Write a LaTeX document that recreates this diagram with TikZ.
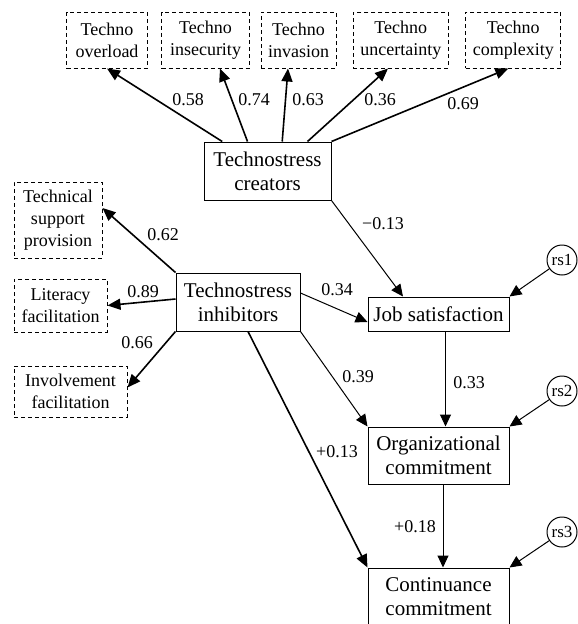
\documentclass[tikz,border=0pt]{standalone}
\usepackage{fontspec}
\setmainfont{Liberation Serif}
\usetikzlibrary{arrows.meta,calc}
\begin{document}
\begin{tikzpicture}[x=1pt,y=-1pt,
  mainbox/.style={draw,line width=1pt,inner sep=0pt,align=center,font=\fontsize{21}{24}\selectfont},
  dimbox/.style={draw,dash pattern=on 4pt off 3pt,line width=1pt,inner sep=0pt,align=center,font=\fontsize{18}{22}\selectfont},
  resid/.style={draw,circle,line width=1pt,minimum size=30pt,inner sep=0pt,font=\fontsize{17}{20}\selectfont},
  lbl/.style={inner sep=0pt,font=\fontsize{18}{20}\selectfont},
  thickarr/.style={line width=1.6pt,-{Triangle[length=13pt,width=11pt]}},
  thinarr/.style={line width=1pt,-{Triangle[length=12pt,width=11pt]}},
]
\useasboundingbox (0,0) rectangle (578,624);
\clip (0,0) rectangle (578,624);

% top dimension boxes
\node[dimbox,minimum width=80.6pt,minimum height=56pt] (ov)  at (107,40)   {Techno\\overload};
\node[dimbox,minimum width=87.6pt,minimum height=56pt] (ins) at (205.5,40) {Techno\\insecurity};
\node[dimbox,minimum width=75pt,minimum height=56pt]   (inv) at (298.5,40) {Techno\\invasion};
\node[dimbox,minimum width=95pt,minimum height=56pt]   (unc) at (400.8,40) {Techno\\uncertainty};
\node[dimbox,minimum width=95.3pt,minimum height=56pt] (cpx) at (513.3,40) {Techno\\complexity};

% left dimension boxes
\node[dimbox,minimum width=88pt,minimum height=76pt]  (tsp)  at (58,220)    {Technical\\support\\provision};
\node[dimbox,minimum width=93pt,minimum height=53pt]  (lit)  at (60.5,305.5) {Literacy\\facilitation};
\node[dimbox,minimum width=113pt,minimum height=51pt] (invf) at (70.5,391.5) {Involvement\\facilitation};

% main constructs
\node[mainbox,minimum width=127pt,minimum height=58pt] (cre)  at (267.5,171) {Technostress\\creators};
\node[mainbox,minimum width=124pt,minimum height=58pt] (inh)  at (238,302)   {Technostress\\inhibitors};
\node[mainbox,minimum width=141pt,minimum height=34pt] (js)   at (438.5,314) {Job satisfaction};
\node[mainbox,minimum width=141pt,minimum height=57pt] (org)  at (438.5,455.5) {Organizational\\commitment};
\node[mainbox,minimum width=141pt,minimum height=57pt] (cont) at (438.5,596.5) {Continuance\\commitment};

% residuals
\node[resid] (rs1) at (562,260) {rs1};
\node[resid] (rs2) at (562,391) {rs2};
\node[resid] (rs3) at (562,532) {rs3};

% creators -> dimensions
\draw[thickarr] ($(cre.north west)+(18.7,0)$) -- (ov.south);
\draw[thickarr] ($(cre.north west)+(44,0)$) -- ($(ins.south)+(14.5,0)$);
\draw[thickarr] ($(cre.north west)+(78.7,0)$) -- ($(inv.south)+(-10.5,0)$);
\draw[thickarr] ($(cre.north west)+(104,0)$) -- ($(unc.south)+(-12.8,0)$);
\draw[thickarr] (cre.north east) -- ($(cpx.south)+(-5,0)$);

% inhibitors -> dimensions
\draw[thickarr] (inh.north west) -- ($(tsp.east)+(0,-12)$);
\draw[thickarr] ($(inh.west)+(0,-3)$) -- (lit.east);
\draw[thickarr] (inh.south west) -- ($(invf.east)+(0,-4)$);

% structural paths
\draw[thinarr] (cre.south east) -- ($(js.north)+(-35.5,0)$);
\draw[thinarr] ($(inh.east)+(0,-9)$) -- ($(js.west)+(0,8)$);
\draw[thinarr] (inh.south east) -- (org.north west);
\draw[thickarr] ($(inh.south)+(10,0)$) -- (cont.north west);
\draw[thinarr] ($(js.south)+(7,0)$) -- ($(org.north)+(7,0)$);
\draw[thinarr] ($(org.south)+(4.5,0)$) -- ($(cont.north)+(4.5,0)$);

% residual arrows
\draw[thinarr] (rs1) -- (js.north east);
\draw[thinarr] (rs2) -- (org.north east);
\draw[thinarr] (rs3) -- (cont.north east);

% labels
\node[lbl] (l1)  at (188,100) {0.58};
\node[lbl] (l2)  at (254,100) {0.74};
\node[lbl] (l3)  at (308,100) {0.63};
\node[lbl] (l4)  at (380,100) {0.36};
\node[lbl] (l5)  at (463,104) {0.69};
\node[lbl] (l6)  at (383,224) {−0.13};
\node[lbl] (l7)  at (163,235) {0.62};
\node[lbl] (l8)  at (143,292) {0.89};
\node[lbl] (l9)  at (137,343) {0.66};
\node[lbl] (l10) at (337,290) {0.34};
\node[lbl] (l11) at (358,377) {0.39};
\node[lbl] (l12) at (469,383) {0.33};
\node[lbl] (l13) at (337,452) {+0.13};
\node[lbl] (l14) at (415,527) {+0.18};
\end{tikzpicture}
\end{document}
